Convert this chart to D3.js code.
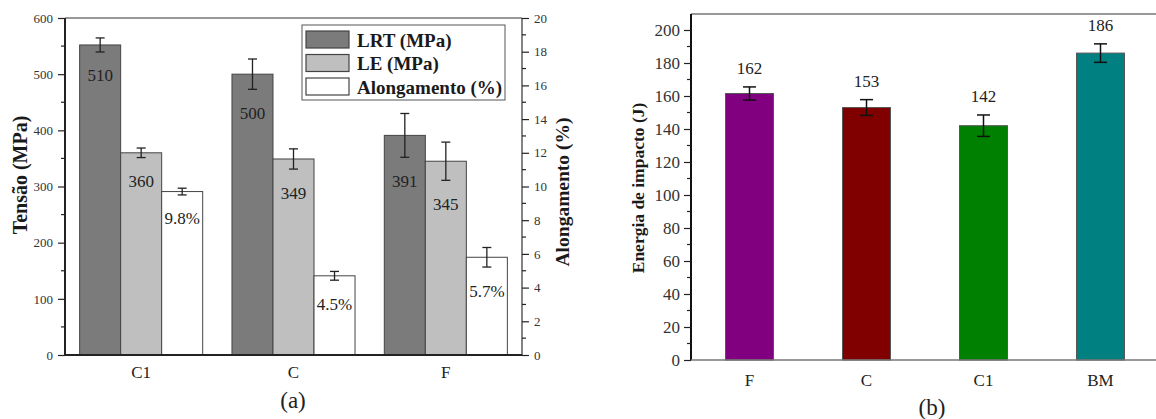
<!DOCTYPE html>
<html>
<head>
<meta charset="utf-8">
<script src="https://cdn.jsdelivr.net/npm/d3@7"></script>
<style>
  body { margin: 0; background: #fff; }
  svg text { font-family: "Liberation Serif", "Times New Roman", Times, serif; }
</style>
</head>
<body>
<svg id="chart" width="1156" height="419"></svg>
<script>
// ---- data (a) ----
const groupsA = ["C1", "C", "F"];
const seriesA = ["LRT (MPa)", "LE (MPa)", "Alongamento (%)"];
const lrtValues = [552, 500, 391];
const lrtErrors = [12.5, 27, 39];
const lrtLabels = ["510", "500", "391"];
const leValues = [360, 349, 345];
const leErrors = [8.5, 18, 34];
const leLabels = ["360", "349", "345"];
const alongValues = [9.7, 4.7, 5.8];
const alongErrors = [0.2, 0.26, 0.58];
const alongLabels = ["9.8%", "4.5%", "5.7%"];
const tensaoTicks = [0, 100, 200, 300, 400, 500, 600];
const alongTicks = [0, 2, 4, 6, 8, 10, 12, 14, 16, 18, 20];

// ---- data (b) ----
const groupsB = ["F", "C", "C1", "BM"];
const impactValues = [161.5, 153, 142, 186];
const impactErrors = [4, 4.8, 6.5, 5.6];
const impactLabels = ["162", "153", "142", "186"];
const impactColors = ["#800080", "#800000", "#008000", "#008080"];
const impactTicks = [0, 20, 40, 60, 80, 100, 120, 140, 160, 180, 200];

const svg = d3.select("#chart");
const TXT = "#222";
const SERIF = "Liberation Serif, Times New Roman, serif";

// ============ chart (a) ============
const A = { left: 65, right: 522, top: 18, bottom: 355 };
const x0 = d3.scaleBand().domain(groupsA).range([A.left, A.right]).padding(0);
const x1 = d3.scaleBand().domain(seriesA).range([0, x0.bandwidth()])
  .paddingInner(0).paddingOuter(0.357);
const yT = d3.scaleLinear().domain([0, 600]).range([A.bottom, A.top]);
const yA = d3.scaleLinear().domain([0, 20]).range([A.bottom, A.top]);

const fills = ["#7b7b7b", "#bfbfbf", "#ffffff"];
const seriesData = [
  { vals: lrtValues, errs: lrtErrors, labels: lrtLabels, y: yT },
  { vals: leValues, errs: leErrors, labels: leLabels, y: yT },
  { vals: alongValues, errs: alongErrors, labels: alongLabels, y: yA },
];

const gA = svg.append("g");

// frame top
gA.append("line").attr("x1", A.left).attr("x2", A.right).attr("y1", A.top).attr("y2", A.top)
  .attr("stroke", "#333").attr("stroke-width", 1.2);

seriesData.forEach((s, si) => {
  groupsA.forEach((g, gi) => {
    const x = x0(g) + x1(seriesA[si]);
    const v = s.vals[gi];
    gA.append("rect")
      .attr("x", x).attr("y", s.y(v))
      .attr("width", x1.bandwidth()).attr("height", s.y(0) - s.y(v))
      .attr("fill", fills[si]).attr("stroke", "#444").attr("stroke-width", 1);
  });
});

// error bars + value labels
seriesData.forEach((s, si) => {
  groupsA.forEach((g, gi) => {
    const cx = x0(g) + x1(seriesA[si]) + x1.bandwidth() / 2;
    const v = s.vals[gi], e = s.errs[gi];
    const yHi = s.y(v + e), yLo = s.y(v - e);
    const eb = gA.append("g").attr("stroke", "#222").attr("stroke-width", 1.3);
    eb.append("line").attr("x1", cx).attr("x2", cx).attr("y1", yHi).attr("y2", yLo);
    eb.append("line").attr("x1", cx - 4.5).attr("x2", cx + 4.5).attr("y1", yHi).attr("y2", yHi);
    eb.append("line").attr("x1", cx - 4.5).attr("x2", cx + 4.5).attr("y1", yLo).attr("y2", yLo);
    gA.append("text")
      .attr("x", cx).attr("y", yLo + 24)
      .attr("text-anchor", "middle").attr("dominant-baseline", "central")
      .attr("font-family", SERIF).attr("font-size", 17).attr("fill", TXT)
      .text(s.labels[gi]);
  });
});

// left axis
const axL = gA.append("g").attr("transform", `translate(${A.left},0)`)
  .call(d3.axisLeft(yT).tickValues(tensaoTicks).tickSize(7).tickPadding(5));
axL.attr("font-family", SERIF);
axL.selectAll(".tick text").attr("font-size", 13).attr("fill", "#333");
axL.selectAll(".tick line").attr("stroke", "#222").attr("stroke-width", 1.2);
axL.select(".domain").attr("stroke", "#222").attr("stroke-width", 2).attr("d", `M0,${A.top}V${A.bottom}`);
axL.selectAll(".minor").data(d3.range(50, 600, 100)).enter().append("line")
  .attr("x1", -4).attr("x2", 0).attr("y1", d => yT(d)).attr("y2", d => yT(d))
  .attr("stroke", "#222").attr("stroke-width", 1.2);

// right axis
const axR = gA.append("g").attr("transform", `translate(${A.right},0)`)
  .call(d3.axisRight(yA).tickValues(alongTicks).tickSize(7).tickPadding(5));
axR.attr("font-family", SERIF);
axR.selectAll(".tick text").attr("font-size", 13).attr("fill", "#333");
axR.selectAll(".tick line").attr("stroke", "#222").attr("stroke-width", 1.2);
axR.select(".domain").attr("stroke", "#333").attr("stroke-width", 1.2).attr("d", `M0,${A.top}V${A.bottom}`);
axR.selectAll(".minor").data(d3.range(1, 20, 2)).enter().append("line")
  .attr("x1", 0).attr("x2", 4).attr("y1", d => yA(d)).attr("y2", d => yA(d))
  .attr("stroke", "#222").attr("stroke-width", 1.2);

// bottom axis
gA.append("line").attr("x1", A.left - 1).attr("x2", A.right).attr("y1", A.bottom).attr("y2", A.bottom)
  .attr("stroke", "#222").attr("stroke-width", 2);
gA.selectAll(".xlab").data(groupsA).enter().append("text")
  .attr("x", d => x0(d) + x0.bandwidth() / 2).attr("y", 372)
  .attr("text-anchor", "middle").attr("dominant-baseline", "central")
  .attr("font-family", SERIF).attr("font-size", 17).attr("fill", TXT).text(d => d);

// axis titles
gA.append("text").attr("transform", "translate(20,175) rotate(-90)")
  .attr("text-anchor", "middle").attr("dominant-baseline", "central")
  .attr("font-family", SERIF).attr("font-size", 20).attr("font-weight", "bold")
  .attr("fill", "#1a1a1a").text("Tensão (MPa)");
gA.append("text").attr("transform", "translate(562,192) rotate(-90)")
  .attr("text-anchor", "middle").attr("dominant-baseline", "central")
  .attr("font-family", SERIF).attr("font-size", 19.5).attr("font-weight", "bold")
  .attr("fill", "#1a1a1a").text("Alongamento (%)");

gA.append("text").attr("x", 293).attr("y", 400)
  .attr("text-anchor", "middle").attr("dominant-baseline", "central")
  .attr("font-family", SERIF).attr("font-size", 23).attr("fill", TXT).text("(a)");

// legend
const leg = gA.append("g").attr("transform", "translate(302,25)");
leg.append("rect").attr("width", 203).attr("height", 75)
  .attr("fill", "#fff").attr("stroke", "#555").attr("stroke-width", 1);
seriesA.forEach((name, i) => {
  const ry = 6 + i * 23.5;
  leg.append("rect").attr("x", 4).attr("y", ry).attr("width", 43).attr("height", 17)
    .attr("fill", fills[i]).attr("stroke", "#444").attr("stroke-width", 1.2);
  leg.append("text").attr("x", 55).attr("y", ry + 9)
    .attr("dominant-baseline", "central")
    .attr("font-family", SERIF).attr("font-size", 19).attr("font-weight", "bold")
    .attr("fill", "#1a1a1a").text(name);
});

// ============ chart (b) ============
const B = { left: 691, right: 1159, top: 14, bottom: 360 };
const xb = d3.scaleBand().domain(groupsB).range([B.left, B.right])
  .paddingInner(0.59).paddingOuter(0.295);
const yb = d3.scaleLinear().domain([0, 200]).range([B.bottom, 30]);

const gB = svg.append("g");
gB.append("line").attr("x1", B.left).attr("x2", B.right).attr("y1", B.top).attr("y2", B.top)
  .attr("stroke", "#333").attr("stroke-width", 1.2);

groupsB.forEach((g, i) => {
  const v = impactValues[i], e = impactErrors[i];
  const x = xb(g), cx = x + xb.bandwidth() / 2;
  gB.append("rect").attr("x", x).attr("y", yb(v))
    .attr("width", xb.bandwidth()).attr("height", yb(0) - yb(v))
    .attr("fill", impactColors[i]).attr("stroke", "#555").attr("stroke-width", 1);
  const yHi = yb(v + e), yLo = yb(v - e);
  const eb = gB.append("g").attr("stroke", "#111").attr("stroke-width", 1.5);
  eb.append("line").attr("x1", cx).attr("x2", cx).attr("y1", yHi).attr("y2", yLo);
  eb.append("line").attr("x1", cx - 6.5).attr("x2", cx + 6.5).attr("y1", yHi).attr("y2", yHi);
  eb.append("line").attr("x1", cx - 6.5).attr("x2", cx + 6.5).attr("y1", yLo).attr("y2", yLo);
  gB.append("text").attr("x", cx).attr("y", yHi - 18)
    .attr("text-anchor", "middle").attr("dominant-baseline", "central")
    .attr("font-family", SERIF).attr("font-size", 17).attr("fill", TXT).text(impactLabels[i]);
});

const axB = gB.append("g").attr("transform", `translate(${B.left},0)`)
  .call(d3.axisLeft(yb).tickValues(impactTicks).tickSize(7).tickPadding(4));
axB.attr("font-family", SERIF);
axB.selectAll(".tick text").attr("font-size", 17).attr("fill", "#333");
axB.selectAll(".tick line").attr("stroke", "#222").attr("stroke-width", 1.2);
axB.select(".domain").attr("stroke", "#111").attr("stroke-width", 2).attr("d", `M0,${B.top}V${B.bottom}`);
axB.selectAll(".minor").data(d3.range(10, 210, 20)).enter().append("line")
  .attr("x1", -4).attr("x2", 0).attr("y1", d => yb(d)).attr("y2", d => yb(d))
  .attr("stroke", "#222").attr("stroke-width", 1.2);

gB.append("line").attr("x1", B.left).attr("x2", B.right).attr("y1", B.bottom).attr("y2", B.bottom)
  .attr("stroke", "#777").attr("stroke-width", 1.5);
gB.selectAll(".xlab").data(groupsB).enter().append("text")
  .attr("x", d => xb(d) + xb.bandwidth() / 2).attr("y", 380)
  .attr("text-anchor", "middle").attr("dominant-baseline", "central")
  .attr("font-family", SERIF).attr("font-size", 17).attr("fill", TXT).text(d => d);

gB.append("text").attr("transform", "translate(638,188) rotate(-90)")
  .attr("text-anchor", "middle").attr("dominant-baseline", "central")
  .attr("font-family", SERIF).attr("font-size", 17.5).attr("font-weight", "bold")
  .attr("fill", "#1a1a1a").text("Energia de impacto (J)");

gB.append("text").attr("x", 932).attr("y", 407)
  .attr("text-anchor", "middle").attr("dominant-baseline", "central")
  .attr("font-family", SERIF).attr("font-size", 23).attr("fill", TXT).text("(b)");
</script>
</body>
</html>
